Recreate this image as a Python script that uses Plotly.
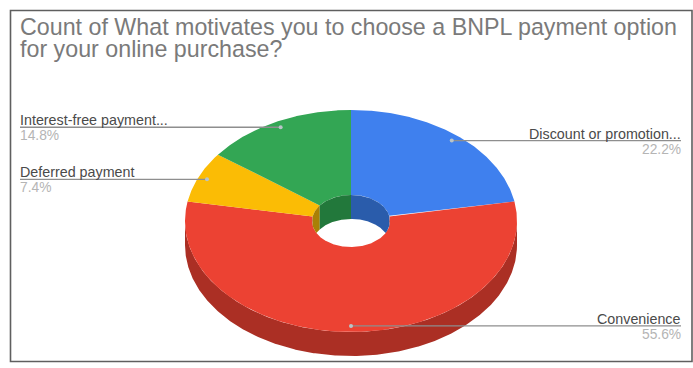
import numpy as np
import plotly.graph_objects as go

# Slices, clockwise from twelve o'clock
labels = ["Discount or promotion...", "Convenience", "Deferred payment", "Interest-free payment..."]
shares = [22.2, 55.6, 7.4, 14.8]
colors = ["#3f80ee", "#ec4233", "#fbbc05", "#33a654"]
wall_colors = ["#2a5cab", "#ab2f24", "#a98006", "#22783b"]

title_lines = ["Count of What motivates you to choose a BNPL payment option",
               "for your online purchase?"]

# Projected donut geometry, in page pixels
CX, CY = 351.0, 221.0
RX, RY = 166.0, 111.0
HOLE = 0.235
DEPTH = 24.0
LEADER_R = 0.945

# label placement: left-hand or right-hand column, leader height comes from the slice
LABEL_SIDE = ["right", "right", "left", "left"]
LEFT_X, RIGHT_X = 20, 681


def rim(theta, scale=1.0):
    t = np.radians(theta)
    return CX + RX * scale * np.sin(t), CY - RY * scale * np.cos(t)


def arc(a, b, step=0.5):
    n = max(2, int(abs(b - a) / step) + 1)
    return np.linspace(a, b, n)


def poly(x, y, color):
    return go.Scatter(x=list(x), y=list(y), mode="lines", fill="toself", fillcolor=color,
                      line=dict(width=0, color=color), hoverinfo="skip", showlegend=False)


edges = np.concatenate([[0], np.cumsum(shares)]) / sum(shares) * 360
spans = list(zip(edges[:-1], edges[1:]))

fig = go.Figure()

# Outer side of the disc: only the front half shows
for (a, b), wall in zip(spans, wall_colors):
    lo, hi = max(a, 90), min(b, 270)
    if lo < hi:
        th = arc(lo, hi)
        x, y = rim(th)
        fig.add_trace(poly(np.r_[x, x[::-1]], np.r_[y, y[::-1] + DEPTH], wall))

# Top face
for (a, b), col in zip(spans, colors):
    th = arc(a, b)
    xo, yo = rim(th)
    xi, yi = rim(th[::-1], HOLE)
    fig.add_trace(poly(np.r_[xo, xi], np.r_[yo, yi], col))

# Far wall of the hole, cut off where it meets the near rim
for (a, b), wall in zip(spans, wall_colors):
    for lo, hi in ((max(a, 0), min(b, 90)), (max(a, 270), min(b, 360))):
        if lo < hi:
            th = arc(lo, hi, 0.25)
            x, y = rim(th, HOLE)
            _, near = rim(180 - th, HOLE)
            low = np.minimum(y + DEPTH, near)
            fig.add_trace(poly(np.r_[x, x[::-1]], np.r_[y, low[::-1]], wall))

annotations = []


def note(x, y, text, size, color, xanchor, yanchor="bottom"):
    annotations.append(dict(x=x, y=y, xref="x", yref="y", text=text, showarrow=False,
                            xanchor=xanchor, yanchor=yanchor, borderpad=0, borderwidth=0,
                            font=dict(family="Liberation Sans", size=size, color=color)))


# Leaders and labels
for (a, b), name, share, side in zip(spans, labels, shares, LABEL_SIDE):
    mx, my = rim((a + b) / 2, LEADER_R)
    my = float(my)
    tx = RIGHT_X if side == "right" else LEFT_X
    fig.add_trace(go.Scatter(x=[tx, float(mx)], y=[my, my], mode="lines",
                             line=dict(color="#8e8e8e", width=1.3),
                             hoverinfo="skip", showlegend=False))
    fig.add_trace(go.Scatter(x=[float(mx)], y=[my], mode="markers",
                             marker=dict(color="#b9c4c8", size=4),
                             hoverinfo="skip", showlegend=False))
    note(tx, my + 1, name, 14.3, "#4a4a4a", side)
    note(tx, my + 1, f"{share}%", 13.8, "#b5b5b5", side, "top")

note(LEFT_X, 40, title_lines[0], 23.25, "#7a7a7a", "left")
note(LEFT_X, 62.5, title_lines[1], 23.25, "#7a7a7a", "left")

fig.update_layout(
    width=693, height=368, margin=dict(l=0, r=0, t=0, b=0),
    paper_bgcolor="white", plot_bgcolor="white", showlegend=False,
    annotations=annotations,
    shapes=[dict(type="rect", xref="x", yref="y", x0=10.5, y0=10.5, x1=692, y1=361.5,
                 line=dict(color="#5f5f5f", width=1.6), layer="below")],
    xaxis=dict(range=[0, 693], visible=False, fixedrange=True),
    yaxis=dict(range=[368, 0], visible=False, fixedrange=True),
)

fig.write_html("out.html", config={"displayModeBar": False})
